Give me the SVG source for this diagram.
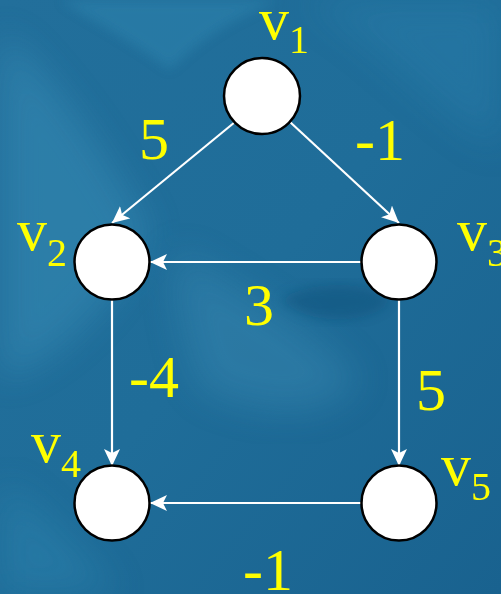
<svg xmlns="http://www.w3.org/2000/svg" width="501" height="594" viewBox="0 0 501 594">
<defs>
<linearGradient id="bg" x1="0" y1="0" x2="1" y2="1">
<stop offset="0" stop-color="#226f9b"/>
<stop offset="0.5" stop-color="#1f6d99"/>
<stop offset="1" stop-color="#19628f"/>
</linearGradient>
<filter id="blur" x="-20%" y="-20%" width="140%" height="140%"><feGaussianBlur stdDeviation="18"/></filter>
<filter id="blur2" x="-20%" y="-20%" width="140%" height="140%"><feGaussianBlur stdDeviation="6"/></filter>
<marker id="arr" markerUnits="userSpaceOnUse" markerWidth="18" markerHeight="16" viewBox="0 0 18 16" refX="17" refY="8" orient="auto">
<path d="M0,0 L17,8 L0,16 L4,8 Z" fill="#ffffff"/>
</marker>
<style>
.node{fill:#ffffff;stroke:#000000;stroke-width:2.5}
.edge{stroke:#ffffff;stroke-width:2.2;fill:none;marker-end:url(#arr)}
.lbl{font-family:"Liberation Serif","Times New Roman",serif;fill:#ffff00;font-size:60px}
.sub{font-size:40px}
</style>
</defs>
<rect width="501" height="594" fill="url(#bg)"/>
<g id="background" opacity="0.9">
<path d="M0,30 C60,80 110,160 150,230 C120,300 60,360 0,380 Z" fill="#3a8fb8" opacity="0.55" filter="url(#blur)"/>
<path d="M60,0 L280,0 C230,20 200,40 170,70 C130,40 90,20 60,0 Z" fill="#2d84ae" opacity="0.6" filter="url(#blur2)"/>
<path d="M300,0 C380,40 440,120 501,150 L501,0 Z" fill="#2a7fab" opacity="0.5" filter="url(#blur)"/>
<path d="M180,250 C260,300 320,330 360,380 C330,420 270,420 200,390 C180,330 170,290 180,250 Z" fill="#3a8ab2" opacity="0.5" filter="url(#blur)"/>
<path d="M280,300 C310,280 370,280 390,300 C380,320 330,325 300,312 Z" fill="#0f4f78" opacity="0.5" filter="url(#blur2)"/>
<path d="M0,480 C60,520 90,560 120,594 L0,594 Z" fill="#2f86b0" opacity="0.5" filter="url(#blur)"/>
</g>
<g id="connectors">
<line class="edge" x1="235" y1="122" x2="112" y2="223"/>
<line class="edge" x1="290" y1="122" x2="399" y2="223"/>
<line class="edge" x1="362" y1="262" x2="150" y2="262"/>
<line class="edge" x1="112" y1="300" x2="112" y2="466"/>
<line class="edge" x1="399" y1="300" x2="399" y2="466"/>
<line class="edge" x1="362" y1="503" x2="150" y2="503"/>
</g>
<g id="edge-labels">
<text class="lbl" x="154" y="159" text-anchor="middle">5</text>
<text class="lbl" x="380" y="160" text-anchor="middle">-1</text>
<text class="lbl" x="259" y="325" text-anchor="middle">3</text>
<text class="lbl" x="154" y="397" text-anchor="middle">-4</text>
<text class="lbl" x="431" y="410" text-anchor="middle">5</text>
<text class="lbl" x="268" y="590" text-anchor="middle">-1</text>
</g>
<g id="v1">
<circle class="node" cx="262" cy="96" r="38"/>
<text class="lbl" x="259" y="39">v<tspan class="sub" dy="14">1</tspan></text>
</g>
<g id="v2">
<circle class="node" cx="112" cy="262" r="37.5"/>
<text class="lbl" x="17" y="250">v<tspan class="sub" dy="16">2</tspan></text>
</g>
<g id="v3">
<circle class="node" cx="399" cy="262" r="37.5"/>
<text class="lbl" x="457" y="250">v<tspan class="sub" dy="16">3</tspan></text>
</g>
<g id="v4">
<circle class="node" cx="112" cy="503" r="37.5"/>
<text class="lbl" x="31" y="462">v<tspan class="sub" dy="15">4</tspan></text>
</g>
<g id="v5">
<circle class="node" cx="399" cy="503" r="37.5"/>
<text class="lbl" x="441" y="485">v<tspan class="sub" dy="15">5</tspan></text>
</g>
</svg>
